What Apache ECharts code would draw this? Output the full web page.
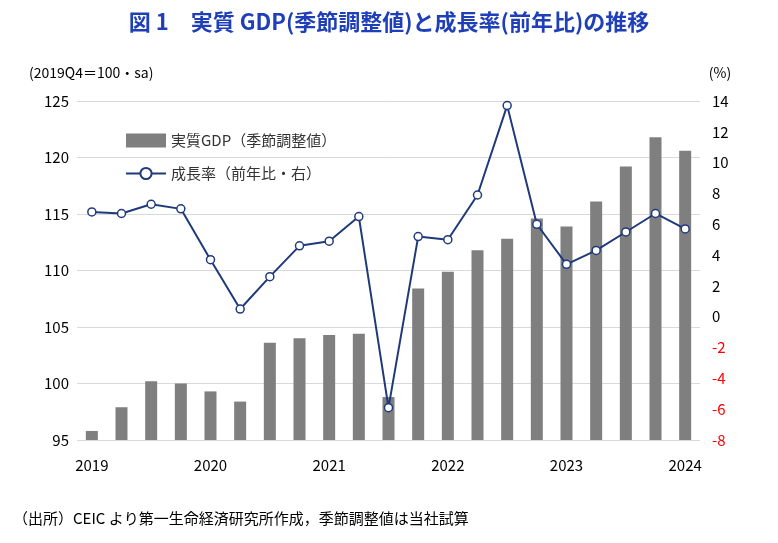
<!DOCTYPE html>
<html><head><meta charset="utf-8">
<script src="https://cdn.jsdelivr.net/npm/echarts@6/dist/echarts.min.js"></script>
<style>html,body{margin:0;padding:0;background:#fff}#chart{width:778px;height:543px}</style>
</head><body><div id="chart"></div>
<script>
  // quarterly data 2019Q1 - 2024Q1
  let quarters = [];
  for (let y = 2019; y <= 2024; y++) for (let q = 1; q <= 4; q++) if (quarters.length < 21) quarters.push(y + "Q" + q);
  let gdp = [95.8, 97.9, 100.2, 100.0, 99.3, 98.4, 103.6, 104.0, 104.3, 104.4, 98.8, 108.4, 109.9, 111.8, 112.8, 114.6, 113.9, 116.1, 119.2, 121.8, 120.6];
  let growth = [6.8, 6.7, 7.3, 7.0, 3.7, 0.5, 2.6, 4.6, 4.9, 6.5, -5.9, 5.2, 5.0, 7.9, 13.7, 6.0, 3.4, 4.3, 5.5, 6.7, 5.7];
  let font = "'Noto Sans CJK JP', sans-serif";

  let chart = echarts.init(document.getElementById("chart"));
  let option = {
    textStyle: { fontFamily: font },
    title: [
      { text: "図 1　実質 GDP(季節調整値)と成長率(前年比)の推移", left: "center", top: 6,
        textStyle: { color: "#1f3fb8", fontSize: 22, fontWeight: "bold", fontFamily: font } },
      { text: "（出所）CEIC より第一生命経済研究所作成，季節調整値は当社試算", left: 8, top: 506,
        textStyle: { color: "#000", fontSize: 15, fontWeight: "normal", fontFamily: font } }
    ],
    legend: {
      orient: "vertical", left: 120, top: 128, itemGap: 18, itemWidth: 40, itemHeight: 14,
      textStyle: { fontSize: 15, color: "#333", fontFamily: font },
      data: [
        { name: "実質GDP（季節調整値）", icon: "rect" },
        { name: "成長率（前年比・右）" }
      ]
    },
    grid: { left: 77, right: 78, top: 101, bottom: 103 },
    xAxis: {
      type: "category", data: quarters, boundaryGap: true,
      axisLine: { show: false }, axisTick: { show: false },
      axisLabel: { interval: 3, color: "#000", fontSize: 15, margin: 18,
        formatter: v => v.slice(0, 4) }
    },
    yAxis: [
      { type: "value", min: 95, max: 125, interval: 5, name: "(2019Q4＝100・sa)",
        nameTextStyle: { color: "#000", fontSize: 14, align: "left", padding: [0, 0, 6, -48] },
        axisLabel: { color: "#000", fontSize: 15, margin: 8 },
        splitLine: { lineStyle: { color: "#d9d9d9" } } },
      { type: "value", min: -8, max: 14, interval: 2, name: "(%)",
        nameTextStyle: { color: "#000", fontSize: 14, padding: [0, 0, 6, 40] },
        axisLabel: { fontSize: 15, margin: 12,
          color: v => (v < 0 ? "#ff0000" : "#000") },
        splitLine: { show: false } }
    ],
    series: [
      { name: "実質GDP（季節調整値）", type: "bar", data: gdp, barWidth: 12,
        itemStyle: { color: "#7f7f7f" } },
      { name: "成長率（前年比・右）", type: "line", yAxisIndex: 1, data: growth,
        symbol: "circle", symbolSize: 8,
        lineStyle: { color: "#1f3a7a", width: 2 },
        itemStyle: { color: "#fff", borderColor: "#1f3a7a", borderWidth: 1.5 } }
    ]
  };
  chart.setOption(option);
</script></body></html>
